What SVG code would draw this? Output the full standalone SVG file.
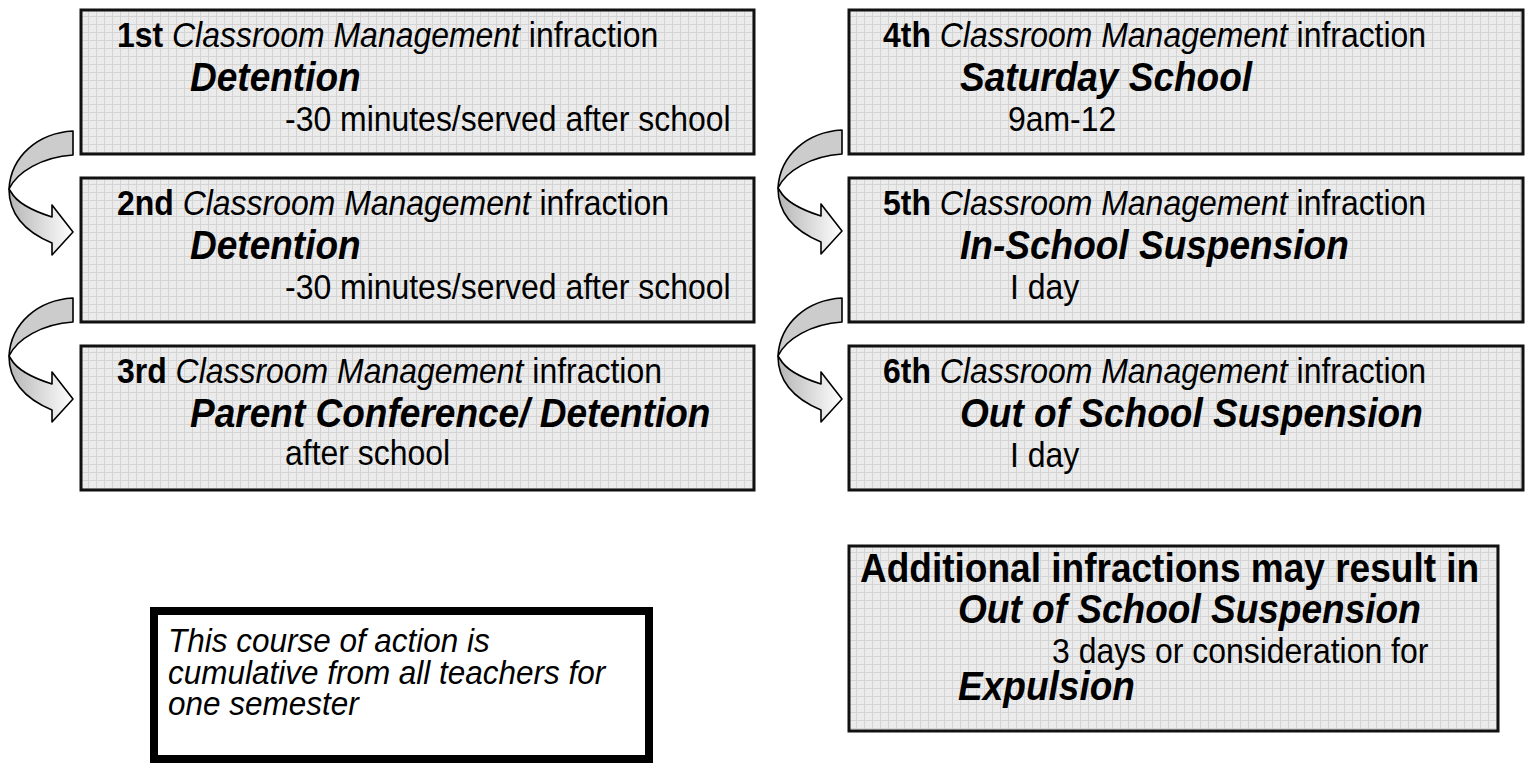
<svg xmlns="http://www.w3.org/2000/svg" width="1529" height="765" viewBox="0 0 1529 765">
<defs>
<style>
text{font-family:"Liberation Sans",Arial,Helvetica,sans-serif;fill:#000;}
.t{font-size:34.5px;}
.big{font-size:40px;font-weight:bold;font-style:italic;}
.hd{font-size:40px;font-weight:bold;}
.note{font-size:34px;font-style:italic;}
.b{font-weight:bold;}
.i{font-style:italic;}
.box{fill:url(#grid);stroke:#111;stroke-width:3;}
.arr{stroke:#000;stroke-width:1.6;stroke-linejoin:round;}
</style>
<pattern id="grid" width="8" height="8" patternUnits="userSpaceOnUse">
<rect width="8" height="8" fill="#ebebeb"/>
<path d="M0 0.5H8M0.5 0V8" stroke="#d4d4d4" stroke-width="1" fill="none"/>
</pattern>
<linearGradient id="front" x1="0" y1="0" x2="1" y2="0">
<stop offset="0" stop-color="#b5b5b5"/>
<stop offset="1" stop-color="#ffffff"/>
</linearGradient>
<g id="curved">
<path class="arr" fill="#cccccc" d="M73,131 C38,133 11,156 9,189 C17,172 42,157 73,155 Z"/>
<path class="arr" fill="url(#front)" d="M9,189 C9,216 28,233 52,243 L52,255 L73,232 L52,205 L52,217 C33,211 17,203 11,192 Z"/>
</g>
</defs>
<rect width="1529" height="765" fill="#fff"/>

<g id="connectors">
<use href="#curved"/>
<use href="#curved" transform="translate(0,167)"/>
<use href="#curved" transform="translate(769,-1)"/>
<use href="#curved" transform="translate(769,167)"/>
</g>

<g id="node1">
<rect class="box" x="81" y="10" width="673" height="144"/>
<text class="t" transform="matrix(0.926,0,0,1,117,47)"><tspan class="b">1st</tspan> <tspan class="i">Classroom Management</tspan> infraction</text>
<text class="big" transform="matrix(0.926,0,0,1,190,91)">Detention</text>
<text class="t" transform="matrix(0.926,0,0,1,285,131)">-30 minutes/served after school</text>
</g>
<g id="node2">
<rect class="box" x="81" y="178" width="673" height="144"/>
<text class="t" transform="matrix(0.926,0,0,1,117,215)"><tspan class="b">2nd</tspan> <tspan class="i">Classroom Management</tspan> infraction</text>
<text class="big" transform="matrix(0.926,0,0,1,190,259)">Detention</text>
<text class="t" transform="matrix(0.926,0,0,1,285,299)">-30 minutes/served after school</text>
</g>
<g id="node3">
<rect class="box" x="81" y="346" width="673" height="144"/>
<text class="t" transform="matrix(0.926,0,0,1,117,383)"><tspan class="b">3rd</tspan> <tspan class="i">Classroom Management</tspan> infraction</text>
<text class="big" transform="matrix(0.926,0,0,1,190,427)">Parent Conference/ Detention</text>
<text class="t" transform="matrix(0.926,0,0,1,285,465)">after school</text>
</g>
<g id="node4">
<rect class="box" x="849" y="10" width="674" height="144"/>
<text class="t" transform="matrix(0.926,0,0,1,883,47)"><tspan class="b">4th</tspan> <tspan class="i">Classroom Management</tspan> infraction</text>
<text class="big" transform="matrix(0.926,0,0,1,960,91)">Saturday School</text>
<text class="t" transform="matrix(0.926,0,0,1,1008,131)">9am-12</text>
</g>
<g id="node5">
<rect class="box" x="849" y="178" width="674" height="144"/>
<text class="t" transform="matrix(0.926,0,0,1,883,215)"><tspan class="b">5th</tspan> <tspan class="i">Classroom Management</tspan> infraction</text>
<text class="big" transform="matrix(0.926,0,0,1,960,259)">In-School Suspension</text>
<text class="t" transform="matrix(0.926,0,0,1,1010,299)">I day</text>
</g>
<g id="node6">
<rect class="box" x="849" y="346" width="674" height="144"/>
<text class="t" transform="matrix(0.926,0,0,1,883,383)"><tspan class="b">6th</tspan> <tspan class="i">Classroom Management</tspan> infraction</text>
<text class="big" transform="matrix(0.926,0,0,1,960,427)">Out of School Suspension</text>
<text class="t" transform="matrix(0.926,0,0,1,1010,467)">I day</text>
</g>
<g id="node7">
<rect class="box" x="849" y="546" width="649" height="185"/>
<text class="hd" transform="matrix(0.926,0,0,1,860,582)">Additional infractions may result in</text>
<text class="big" transform="matrix(0.926,0,0,1,958,623)">Out of School Suspension</text>
<text class="t" transform="matrix(0.926,0,0,1,1052,663)">3 days or consideration for</text>
<text class="big" transform="matrix(0.926,0,0,1,958,700)">Expulsion</text>
</g>
<g id="note">
<rect x="154" y="611" width="495" height="148" fill="#fff" stroke="#000" stroke-width="8"/>
<text class="note" transform="matrix(0.926,0,0,1,168,652)">This course of action is</text>
<text class="note" transform="matrix(0.926,0,0,1,168,684)">cumulative from all teachers for</text>
<text class="note" transform="matrix(0.926,0,0,1,168,715)">one semester</text>
</g>
</svg>
